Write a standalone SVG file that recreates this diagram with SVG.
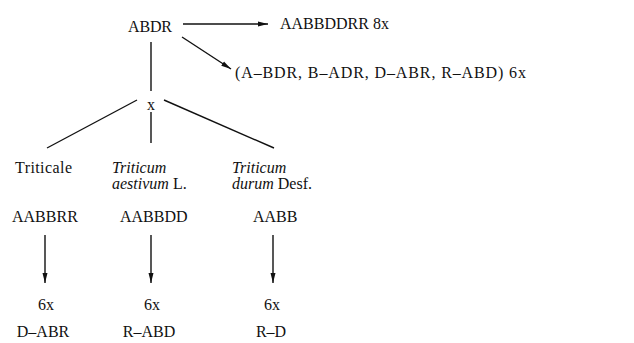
<svg xmlns="http://www.w3.org/2000/svg" width="634" height="343" viewBox="0 0 634 343">
<style>
text { font-family: "Liberation Serif", "Times New Roman", serif; font-size: 16px; fill: #111; }
.it { font-style: italic; }
.c { text-anchor: middle; }
.ln { stroke: #111; stroke-width: 1.4; fill: none; }
</style>
<defs>
<marker id="ah" markerWidth="10" markerHeight="6" refX="10" refY="3" orient="auto" markerUnits="userSpaceOnUse">
<path d="M0,0.5 L10,3 L0,5.5 Z" fill="#111"/>
</marker>
</defs>
<rect width="634" height="343" fill="#fff"/>
<g id="connectors">
<line class="ln" x1="183" y1="24" x2="268" y2="24" marker-end="url(#ah)"/>
<line class="ln" x1="182" y1="37" x2="231" y2="69" marker-end="url(#ah)"/>
<line class="ln" x1="151" y1="42" x2="151" y2="91"/>
<line class="ln" x1="137" y1="100" x2="47" y2="148"/>
<line class="ln" x1="164" y1="100" x2="274" y2="148"/>
<line class="ln" x1="151" y1="112" x2="151" y2="143"/>
<line class="ln" x1="45" y1="235" x2="45" y2="283" marker-end="url(#ah)"/>
<line class="ln" x1="151" y1="235" x2="151" y2="283" marker-end="url(#ah)"/>
<line class="ln" x1="273" y1="235" x2="273" y2="283" marker-end="url(#ah)"/>
</g>
<g id="abdr"><text x="128" y="32" textLength="44">ABDR</text></g>
<g id="octo"><text x="280" y="29">AABBDDRR 8x</text></g>
<g id="hexa"><text x="235" y="78" textLength="291" lengthAdjust="spacing">(A–BDR, B–ADR, D–ABR, R–ABD) 6x</text></g>
<g id="cross"><text x="151" y="110" class="c">x</text></g>
<g id="triticale">
<text x="15" y="173" textLength="57">Triticale</text>
<text x="12" y="222">AABBRR</text>
</g>
<g id="aestivum">
<text x="112" y="173" class="it">Triticum</text>
<text x="112" y="189"><tspan class="it">aestivum</tspan> L.</text>
<text x="120" y="222">AABBDD</text>
</g>
<g id="durum">
<text x="232" y="173" class="it">Triticum</text>
<text x="232" y="189"><tspan class="it">durum</tspan> Desf.</text>
<text x="253" y="222">AABB</text>
</g>
<g id="res1">
<text x="46" y="310" class="c">6x</text>
<text x="43" y="337" class="c">D–ABR</text>
</g>
<g id="res2">
<text x="152" y="310" class="c">6x</text>
<text x="149" y="337" class="c">R–ABD</text>
</g>
<g id="res3">
<text x="272" y="310" class="c">6x</text>
<text x="271" y="337" class="c">R–D</text>
</g>
</svg>
